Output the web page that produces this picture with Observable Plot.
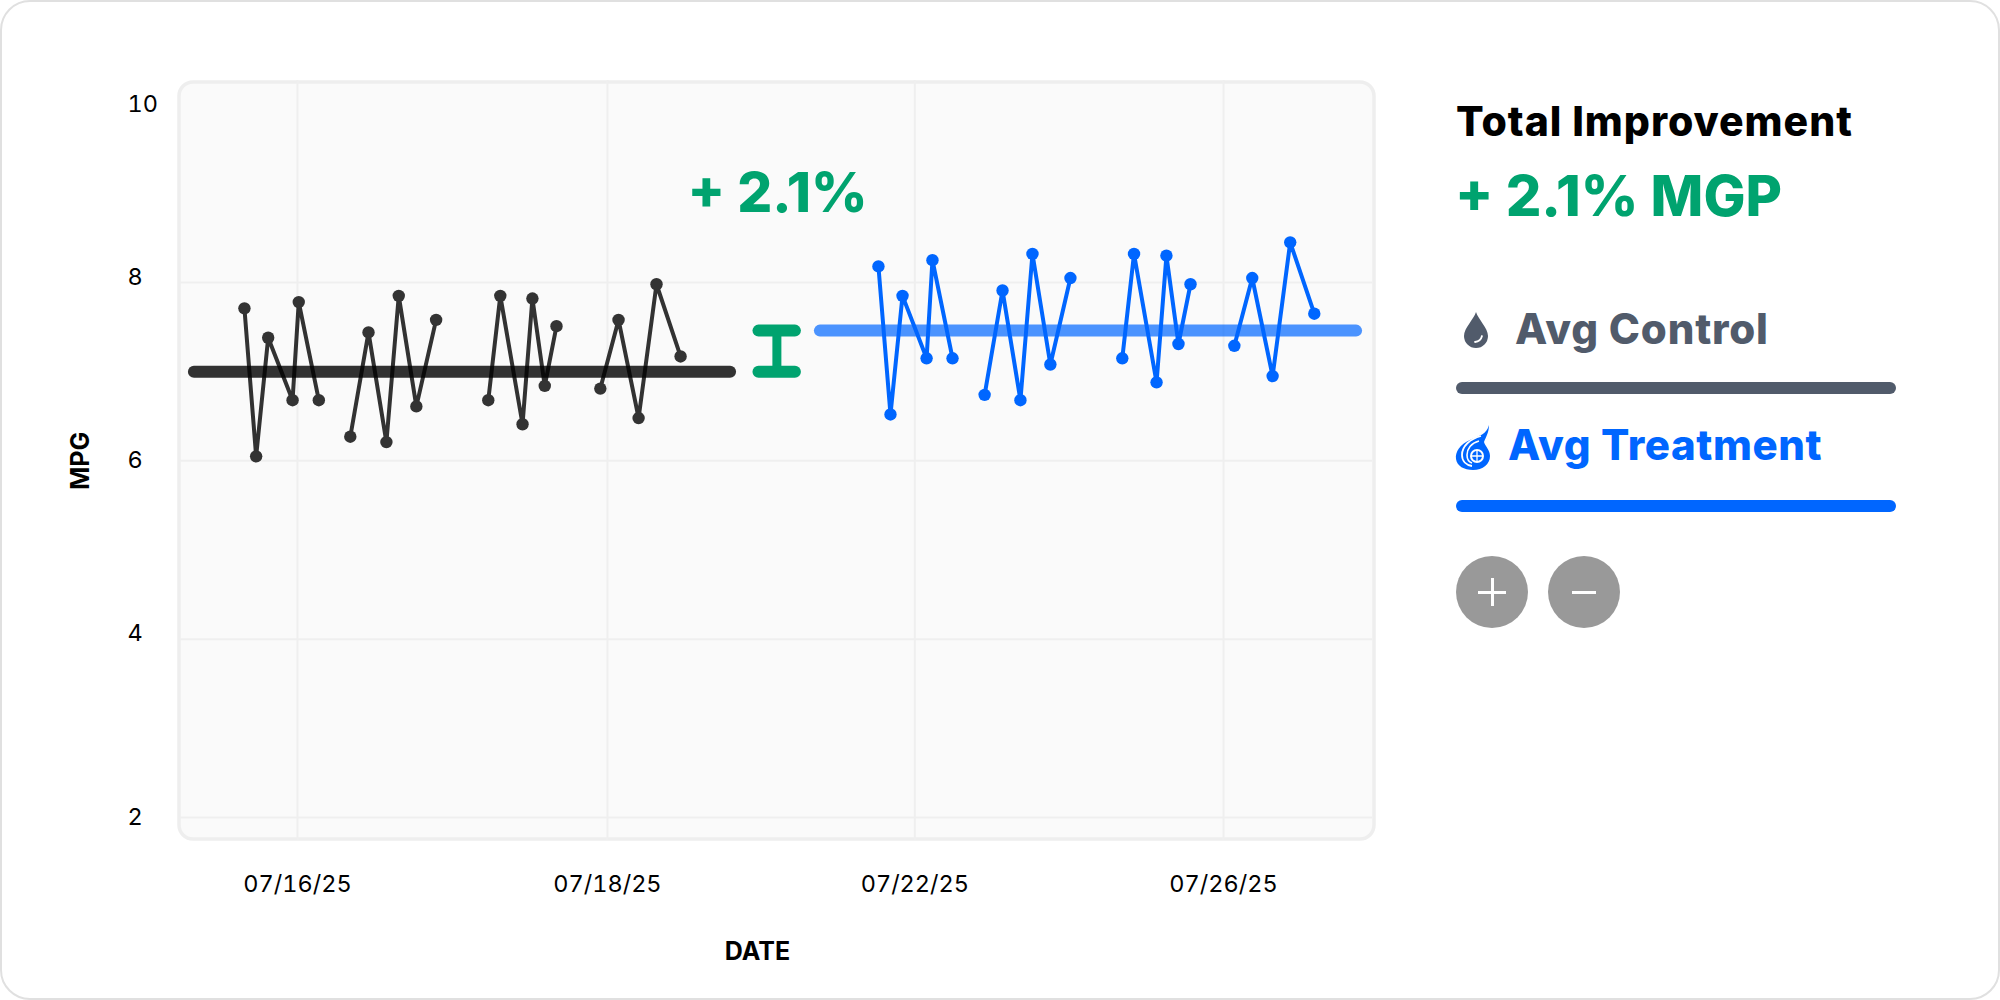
<!DOCTYPE html>
<html>
<head>
<meta charset="utf-8">
<script src="https://cdn.jsdelivr.net/npm/d3@7"></script>
<script src="https://cdn.jsdelivr.net/npm/@observablehq/plot@0.6"></script>
<style>
  html, body { margin: 0; padding: 0; background: #fff; }
  #page { position: relative; width: 2000px; height: 1000px; overflow: hidden; font-family: Inter, sans-serif; }
  #card { position: absolute; left: 0; top: 0; width: 2000px; height: 1000px; box-sizing: border-box; border: 2px solid #e0e0e0; border-radius: 30px; background: #fff; }
  #chart { position: absolute; left: 0; top: 0; }
  #chart svg { display: block; background: transparent; }
  .side { position: absolute; white-space: nowrap; font-weight: 800; line-height: 1; }
  .bar { position: absolute; left: 1456px; width: 440px; height: 12px; border-radius: 6px; }
  .btn { position: absolute; top: 556px; width: 72px; height: 72px; border-radius: 50%; background: #999; }
  .btn i { position: absolute; background: #fff; }
</style>
</head>
<body>
<div id="page">
  <div id="card"></div>
  <div id="chart"></div>
  <div class="side" id="t1" style="left:1456px;top:101px;font-size:41px;letter-spacing:0.95px;color:#000">Total Improvement</div>
  <div class="side" id="t2" style="left:1455px;top:168px;font-size:56px;color:#00a36f">+ 2.1% MGP</div>
  <svg style="position:absolute;left:1464px;top:312px" width="24" height="36" viewBox="0 0 24 36">
    <path d="M12 0 C14 7 24 16 24 24 A12 12 0 0 1 0 24 C0 16 10 7 12 0Z" fill="#515b6b"/>
    <path d="M18 24 A8 8 0 0 1 11 30" fill="none" stroke="#fff" stroke-width="1.8" stroke-linecap="round"/>
  </svg>
  <div class="side" id="t3" style="left:1515px;top:308px;font-size:42px;letter-spacing:0.8px;color:#515b6b">Avg Control</div>
  <div class="bar" style="top:382px;background:#515b6b"></div>
  <svg style="position:absolute;left:1455px;top:424px" width="36" height="47" viewBox="0 0 36 47">
    <path d="M34 1 C32 10 24 12 15 16 C5 20 0 28 1 35 C2 42 9 46 18 46 C28 46 35 40 35 32 C35 26 30 22 29 18 C31 13 34 8 34 1Z" fill="#0066ff"/>
    <path d="M26 12 C15 15 7 22 7 31 C7 37 11 41 17 42" fill="none" stroke="#fff" stroke-width="1.8"/>
    <path d="M24 17 C16 19 12 25 12 31 C12 35 14 38 17 39" fill="none" stroke="#fff" stroke-width="1.6"/>
    <circle cx="22" cy="32" r="7" fill="#fff"/>
    <circle cx="22" cy="32" r="5" fill="#0066ff"/>
    <path d="M22 27V37M17 32H27" stroke="#fff" stroke-width="1.3"/>
  </svg>
  <div class="side" id="t4" style="left:1508px;top:424px;font-size:42px;letter-spacing:0.6px;color:#0066ff">Avg Treatment</div>
  <div class="bar" style="top:500px;background:#0066ff"></div>
  <div class="btn" style="left:1456px"><i style="left:22px;top:34.5px;width:28px;height:3px"></i><i style="left:34.5px;top:22px;width:3px;height:28px"></i></div>
  <div class="btn" style="left:1548px"><i style="left:24px;top:34.5px;width:24px;height:3px"></i></div>
</div>
<script>
const tickLabels = ["07/16/25", "07/18/25", "07/22/25", "07/26/25"];
const tickPositions = [0, 1.004, 2, 3];
const yTicksA = [10, 6, 2];
const yTicksB = [8, 4];
const gridYTicks = [8, 6, 4, 2];
const controlMean = 7.0;
const treatmentMean = 7.46;
const improvementLabel = "+ 2.1%";

const controlX = [-0.172,-0.134,-0.095,-0.016,0.004,0.069, 0.171,0.230,0.288,0.328,0.385,0.449, 0.618,0.657,0.729,0.761,0.801,0.839, 0.981,1.040,1.105,1.163,1.241];
const controlY = [7.71,6.05,7.38,6.68,7.78,6.68, 6.27,7.44,6.21,7.85,6.61,7.58, 6.68,7.85,6.41,7.82,6.84,7.51, 6.81,7.58,6.48,7.98,7.17];
const treatmentX = [1.882,1.921,1.960,2.038,2.057,2.122, 2.226,2.284,2.342,2.381,2.439,2.504, 2.672,2.710,2.783,2.815,2.854,2.893, 3.035,3.093,3.159,3.216,3.294];
const treatmentY = [8.18,6.52,7.85,7.15,8.25,7.15, 6.74,7.91,6.68,8.32,7.08,8.05, 7.15,8.32,6.88,8.30,7.31,7.98, 7.29,8.05,6.95,8.45,7.65];
const groups = [0,0,0,0,0,0, 1,1,1,1,1,1, 2,2,2,2,2,2, 3,3,3,3,3];

const controlSpan = [-0.334, 1.403];
const treatmentSpan = [1.694, 3.431];
const bracketSpan = [1.495, 1.613];
const bracketX = 1.553;

const control = controlX.map((x, i) => ({x, y: controlY[i], g: groups[i]}));
const treatment = treatmentX.map((x, i) => ({x, y: treatmentY[i], g: groups[i]}));

const font = "Inter, sans-serif";
const yFormat = (d) => String(d);
const chart = Plot.plot({
  width: 2000,
  height: 1000,
  marginLeft: 177,
  marginRight: 625,
  marginTop: 80,
  marginBottom: 160,
  style: {background: "transparent", fontFamily: font, fontSize: "23.5px", color: "#000"},
  x: {domain: [-0.3888, 3.4923], axis: null},
  y: {domain: [1.742, 10.265], axis: null},
  marks: [
    Plot.frame({fill: "#fafafa", stroke: "#eeeeee", strokeWidth: 3.5, rx: 14, inset: 1.5}),
    Plot.gridX(tickPositions, {stroke: "#efefef", strokeOpacity: 1, strokeWidth: 2}),
    Plot.gridY(gridYTicks, {stroke: "#efefef", strokeOpacity: 1, strokeWidth: 2, insetLeft: 3, insetRight: 3}),
    Plot.axisX(tickPositions, {anchor: "bottom", tickSize: 0, tickPadding: 35, fontSize: 23.5, tickFormat: (d) => tickLabels[tickPositions.indexOf(d)], label: null}),
    Plot.axisY(yTicksA, {anchor: "left", tickSize: 0, tickPadding: 0, fontSize: 23.5, tickFormat: yFormat, textAnchor: "start", dx: -50, label: null}),
    Plot.axisY(yTicksB, {anchor: "left", tickSize: 0, tickPadding: 0, fontSize: 23.5, tickFormat: yFormat, textAnchor: "start", dx: -50, dy: -5.5, label: null}),
    Plot.text(["DATE"], {x: [1.49], frameAnchor: "bottom", dy: 119, text: (d) => d, fontSize: 25, fontWeight: 700}),
    Plot.text(["MPG"], {y: [6], frameAnchor: "left", dx: -97, rotate: -90, textAnchor: "middle", text: (d) => d, fontSize: 25, fontWeight: 700}),

    Plot.ruleY([controlMean], {x1: controlSpan[0], x2: controlSpan[1], stroke: "#000", strokeOpacity: 0.8, strokeWidth: 12, strokeLinecap: "round"}),
    Plot.ruleY([treatmentMean], {x1: treatmentSpan[0], x2: treatmentSpan[1], stroke: "#0066ff", strokeOpacity: 0.7, strokeWidth: 12, strokeLinecap: "round"}),

    Plot.ruleX([bracketX], {y1: controlMean, y2: treatmentMean, stroke: "#00a36f", strokeWidth: 9}),
    Plot.ruleY([controlMean, treatmentMean], {x1: bracketSpan[0], x2: bracketSpan[1], stroke: "#00a36f", strokeWidth: 12, strokeLinecap: "round"}),
    Plot.text([improvementLabel], {x: [1.555], y: [8.985], text: (d) => d, fontSize: 55, fontWeight: 800, fill: "#00a36f"}),

    Plot.line(control, {x: "x", y: "y", z: "g", stroke: "#000", strokeOpacity: 0.8, strokeWidth: 4, curve: "linear"}),
    Plot.dot(control, {x: "x", y: "y", r: 6.2, fill: "#333333"}),
    Plot.line(treatment, {x: "x", y: "y", z: "g", stroke: "#0066ff", strokeWidth: 4, curve: "linear"}),
    Plot.dot(treatment, {x: "x", y: "y", r: 6.2, fill: "#0066ff"})
  ]
});
document.getElementById("chart").appendChild(chart);
</script>
</body>
</html>
